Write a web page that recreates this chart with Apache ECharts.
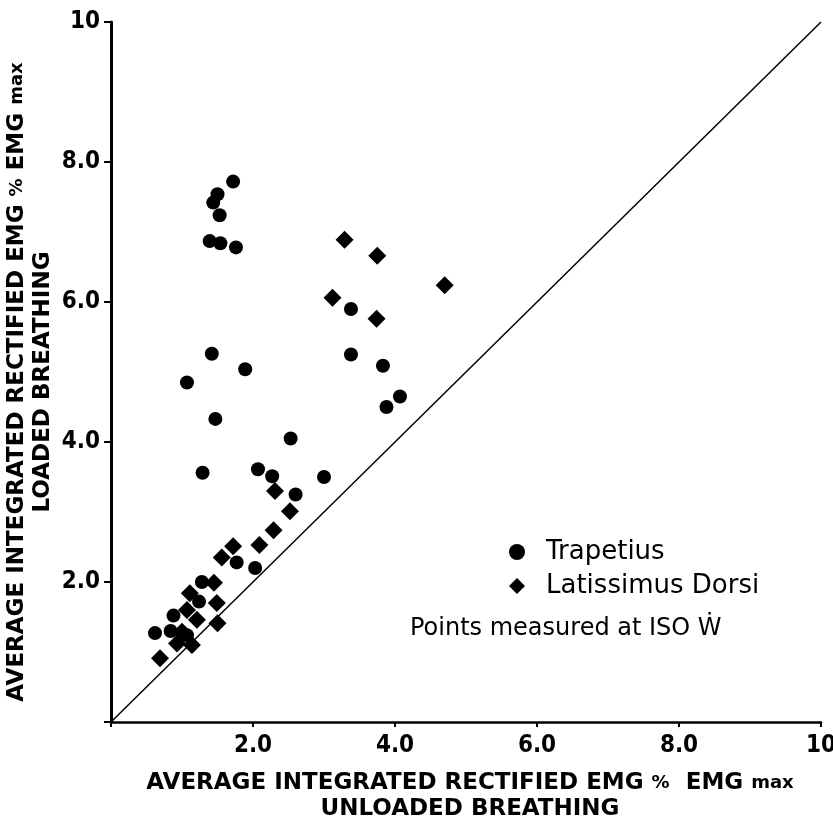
<!DOCTYPE html>
<html>
<head>
<meta charset="utf-8">
<script src="https://cdn.jsdelivr.net/npm/echarts@6/dist/echarts.min.js"></script>
<style>html,body{margin:0;padding:0;background:#fff;}#c{width:833px;height:818px;}</style>
</head>
<body>
<div id="c"></div>
<script>
// Trapetius (circles): [unloaded, loaded]
var trapetius = [
  [1.72,7.72],[1.50,7.54],[1.44,7.42],[1.53,7.24],[1.39,6.87],[1.54,6.84],[1.76,6.78],
  [1.42,5.26],[1.89,5.04],[1.07,4.85],[1.47,4.33],[2.53,4.05],[1.29,3.56],[2.07,3.61],
  [2.27,3.51],[2.60,3.25],[3.00,3.50],[3.38,5.90],[3.38,5.25],[3.83,5.09],[4.07,4.65],
  [3.88,4.50],[1.77,2.28],[2.03,2.20],[1.28,2.00],[1.24,1.72],[0.88,1.52],[0.62,1.27],
  [0.84,1.30],[1.07,1.24]
];
// Latissimus Dorsi (diamonds)
var latissimus = [
  [3.29,6.89],[3.75,6.66],[4.70,6.24],[3.12,6.06],[3.74,5.76],[2.31,3.30],[2.52,3.01],
  [2.29,2.74],[2.09,2.53],[1.72,2.51],[1.56,2.35],[1.45,1.99],[1.11,1.84],[1.49,1.70],
  [1.07,1.60],[1.21,1.46],[1.50,1.41],[1.00,1.29],[0.93,1.12],[1.14,1.10],[0.69,0.91]
];
// identity line
var identity = [[0,0],[10,10]];
var tickLabels = {2:'2.0',4:'4.0',6:'6.0',8:'8.0',10:'10'};

var titleRich = {
  a:{fontFamily:'DejaVu Sans',fontWeight:'bold',fontSize:23,color:'#000',lineHeight:26},
  b:{fontFamily:'DejaVu Sans',fontWeight:'bold',fontSize:18,color:'#000',lineHeight:26}
};
var tickFont = {fontFamily:'"DejaVu Sans Condensed", "Liberation Sans Narrow", sans-serif',fontWeight:'bold',fontSize:24,color:'#000'};

var chart = echarts.init(document.getElementById('c'), null, {renderer:'canvas'});
chart.setOption({
  backgroundColor:'#fff',
  animation:false,
  grid:{left:111,right:12,top:22,bottom:96,containLabel:false,outerBoundsMode:'none'},
  legend:{
    orient:'vertical', left:504, top:534,
    itemWidth:16, itemHeight:16, itemGap:8,
    textStyle:{fontFamily:'DejaVu Sans',fontSize:26,color:'#000',lineHeight:26,padding:[0,0,0,16]},
    data:[{name:'Trapetius',icon:'circle',itemStyle:{color:'#000'}},{name:'Latissimus Dorsi',icon:'diamond',itemStyle:{color:'#000'}}]
  },
  graphic:[{
    type:'text', left:410, top:617,
    style:{text:'Points measured at ISO \u1E86',font:'24px "DejaVu Sans"',fill:'#000'}
  }],
  xAxis:{
    type:'value', min:0, max:10, interval:2,
    axisLine:{lineStyle:{color:'#000',width:2.5}},
    axisTick:{show:true,length:5,lineStyle:{color:'#000',width:2}},
    splitLine:{show:false},
    axisLabel:Object.assign({margin:12,formatter:function(v){return tickLabels[v]||'';}},tickFont),
    name:'{a|AVERAGE INTEGRATED RECTIFIED EMG }{b|%}{a|  EMG }{b|max}\n{a|UNLOADED BREATHING}',
    nameLocation:'middle', nameGap:48, nameMoveOverlap:false,
    nameTextStyle:{rich:titleRich,align:'center',padding:[0,0,0,8]}
  },
  yAxis:{
    type:'value', min:0, max:10, interval:2,
    axisLine:{lineStyle:{color:'#000',width:3}},
    axisTick:{show:true,length:7,lineStyle:{color:'#000',width:2}},
    splitLine:{show:false},
    axisLabel:Object.assign({margin:11,formatter:function(v){return tickLabels[v]||'';}},tickFont),
    name:'{a|AVERAGE INTEGRATED RECTIFIED EMG }{b|%}{a| EMG }{b|max}\n{a|LOADED BREATHING}',
    nameLocation:'middle', nameGap:55, nameRotate:90, nameMoveOverlap:false,
    nameTextStyle:{rich:titleRich,align:'center',padding:[0,20,0,0]}
  },
  series:[
    {name:'identity',type:'line',data:identity,symbol:'none',silent:true,
     lineStyle:{color:'#000',width:1.5},z:1},
    {name:'Trapetius',type:'scatter',data:trapetius,symbol:'circle',symbolSize:14,
     itemStyle:{color:'#000',opacity:1},z:3},
    {name:'Latissimus Dorsi',type:'scatter',data:latissimus,symbol:'diamond',symbolSize:18,
     itemStyle:{color:'#000',opacity:1},z:3}
  ]
});
</script>
</body>
</html>
